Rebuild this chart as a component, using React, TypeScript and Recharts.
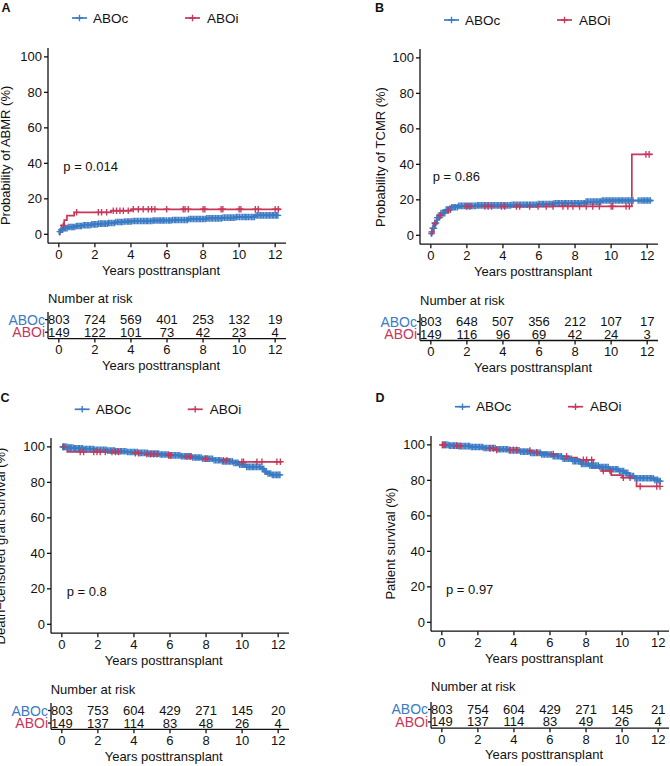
import React from "react";
import { ComposedChart, Line, Scatter, XAxis, YAxis } from "recharts";

const BLUE = "#3a7bc4";
const RED = "#c8375a";
const INK = "#111";
const FONT = "'Liberation Sans', Arial, Helvetica, sans-serif";

const YEARS = [0, 2, 4, 6, 8, 10, 12];
const PCT_TICKS = [0, 20, 40, 60, 80, 100];
const GROUPS = ["ABOc", "ABOi"];
const GROUP_ROW = [1.5, 0.5];

// A — ABMR, step points [year, %]
const abmrC = [[0, 0], [0.03, 1.5], [0.1, 2.6], [0.25, 3.4], [0.5, 4.1], [0.9, 4.7], [1.3, 5.1], [1.8, 5.6], [2.2, 6.0], [2.7, 6.4], [3.1, 6.9], [3.6, 7.2], [4.1, 7.5], [5.2, 7.8], [6.3, 8.1], [7.2, 8.6], [8.2, 9.0], [9.1, 9.4], [9.8, 9.8], [10.9, 10.7], [12.2, 10.7]];
const abmrI = [[0, 0], [0.05, 2.5], [0.15, 5], [0.3, 8], [0.45, 10.5], [0.85, 12.4], [2.9, 13.3], [4.05, 14.1], [12.3, 14.1]];
const abmrCensC = [0.06, 0.14, 0.21, 0.27, 0.33, 0.39, 0.46, 0.52, 0.61, 0.68, 0.74, 0.81, 0.89, 0.97, 1.05, 1.12, 1.19, 1.26, 1.35, 1.43, 1.5, 1.58, 1.66, 1.74, 1.82, 1.9, 1.97, 2.05, 2.13, 2.21, 2.3, 2.38, 2.45, 2.52, 2.6, 2.69, 2.76, 2.83, 2.91, 3.0, 3.08, 3.16, 3.25, 3.33, 3.4, 3.47, 3.55, 3.64, 3.72, 3.81, 3.88, 3.95, 4.03, 4.12, 4.2, 4.28, 4.36, 4.44, 4.53, 4.61, 4.69, 4.77, 4.85, 4.92, 5.0, 5.09, 5.17, 5.24, 5.32, 5.4, 5.49, 5.57, 5.65, 5.73, 5.8, 5.88, 5.97, 6.07, 6.15, 6.23, 6.31, 6.4, 6.47, 6.55, 6.63, 6.72, 6.8, 6.89, 6.97, 7.06, 7.13, 7.21, 7.3, 7.38, 7.46, 7.55, 7.63, 7.71, 7.79, 7.87, 7.96, 8.04, 8.12, 8.2, 8.28, 8.37, 8.45, 8.53, 8.61, 8.7, 8.78, 8.85, 8.94, 9.02, 9.1, 9.19, 9.27, 9.36, 9.44, 9.52, 9.6, 9.68, 9.77, 9.85, 9.93, 10.02, 10.11, 10.2, 10.28, 10.36, 10.43, 10.51, 10.6, 10.69, 10.77, 10.85, 10.94, 11.03, 11.11, 11.2, 11.27, 11.35, 11.44, 11.52, 11.6, 11.68, 11.76, 11.84, 11.92, 12.0, 12.08, 12.15];
const abmrCensI = [0.25, 0.99, 2.19, 2.37, 2.65, 3.02, 3.2, 3.39, 3.58, 3.85, 4.13, 4.41, 4.68, 4.96, 5.15, 5.33, 5.98, 6.9, 7.0, 7.18, 8.0, 8.1, 9.0, 9.1, 10.0, 10.1, 10.9, 11.06, 12.0, 12.17];
const abmrRiskC = [803, 724, 569, 401, 253, 132, 19];
const abmrRiskI = [149, 122, 101, 73, 42, 23, 4];

// B — TCMR
const tcmrC = [[0, 0], [0.03, 1], [0.1, 4], [0.2, 7], [0.35, 10], [0.55, 12.5], [0.8, 14.5], [1.1, 15.8], [1.5, 16.6], [2.5, 16.9], [4.5, 17.2], [5.9, 17.6], [6.8, 18.1], [8.6, 19.0], [9.5, 19.6], [12.3, 19.6]];
const tcmrI = [[0, 0], [0.03, 1.9], [0.15, 6.6], [0.35, 11.2], [0.7, 14], [1.05, 16.3], [11.15, 45.6], [12.3, 45.6]];
const tcmrCensC = [0.04, 0.11, 0.17, 0.22, 0.29, 0.36, 0.42, 0.49, 0.56, 0.63, 0.7, 0.78, 0.85, 0.92, 1.0, 1.09, 1.16, 1.23, 1.3, 1.38, 1.47, 1.55, 1.62, 1.7, 1.78, 1.86, 1.94, 2.02, 2.1, 2.18, 2.25, 2.33, 2.41, 2.49, 2.58, 2.66, 2.73, 2.81, 2.89, 2.97, 3.05, 3.13, 3.21, 3.29, 3.38, 3.46, 3.54, 3.62, 3.7, 3.77, 3.85, 3.93, 4.02, 4.1, 4.17, 4.25, 4.34, 4.42, 4.5, 4.58, 4.66, 4.73, 4.82, 4.9, 4.98, 5.06, 5.14, 5.22, 5.3, 5.37, 5.46, 5.54, 5.62, 5.7, 5.78, 5.86, 5.95, 6.03, 6.11, 6.19, 6.26, 6.34, 6.43, 6.51, 6.59, 6.67, 6.75, 6.83, 6.92, 7.0, 7.07, 7.15, 7.24, 7.32, 7.4, 7.48, 7.55, 7.63, 7.72, 7.8, 7.88, 7.97, 8.04, 8.12, 8.2, 8.28, 8.37, 8.45, 8.53, 8.61, 8.69, 8.77, 8.86, 8.94, 9.02, 9.1, 9.18, 9.26, 9.34, 9.42, 9.5, 9.58, 9.67, 9.75, 9.83, 9.91, 9.99, 10.07, 10.15, 10.23, 10.32, 10.4, 10.48, 10.56, 10.64, 10.72, 10.81, 10.89, 10.97, 11.05, 11.13, 11.22, 11.5, 11.6, 11.7, 11.78, 11.86, 11.94, 12.02, 12.1, 12.18];
const tcmrCensI = [0.05, 0.24, 0.52, 0.97, 1.99, 2.17, 3.0, 3.18, 3.37, 3.92, 4.1, 4.75, 4.93, 5.48, 5.95, 6.4, 6.78, 7.33, 7.6, 7.88, 8.25, 8.62, 8.98, 9.35, 10.0, 10.09, 10.83, 11.01, 11.93, 12.11];
const tcmrRiskC = [803, 648, 507, 356, 212, 107, 17];
const tcmrRiskI = [149, 116, 96, 69, 42, 24, 3];

// C — death-censored graft survival
const graftC = [[0, 100], [0.3, 99.6], [0.7, 99.2], [1.2, 98.8], [1.8, 98.4], [2.5, 97.9], [3.0, 97.5], [3.6, 97.1], [4.2, 96.6], [4.8, 96.2], [5.4, 95.7], [6.0, 95.2], [6.6, 94.7], [7.2, 94.0], [7.8, 93.3], [8.4, 92.5], [8.9, 91.8], [9.5, 91.0], [9.8, 90.0], [10.2, 88.7], [11.1, 87.7], [11.25, 86.0], [11.4, 85.0], [11.6, 84.2], [12.1, 84.2]];
const graftI = [[0, 100], [0.3, 97.2], [4.0, 96.4], [4.6, 95.8], [5.8, 95.2], [6.6, 94.4], [7.5, 93.4], [8.4, 92.5], [9.3, 91.6], [12.2, 91.6]];
const graftCensC = [0.05, 0.1, 0.16, 0.22, 0.29, 0.35, 0.41, 0.48, 0.55, 0.63, 0.7, 0.77, 0.84, 0.92, 0.99, 1.07, 1.14, 1.22, 1.3, 1.37, 1.45, 1.53, 1.6, 1.68, 1.76, 1.83, 1.91, 1.99, 2.07, 2.15, 2.23, 2.31, 2.39, 2.46, 2.54, 2.62, 2.7, 2.78, 2.85, 2.93, 3.01, 3.09, 3.17, 3.25, 3.32, 3.4, 3.48, 3.56, 3.64, 3.72, 3.8, 3.88, 3.95, 4.03, 4.11, 4.19, 4.27, 4.35, 4.43, 4.5, 4.58, 4.66, 4.74, 4.82, 4.9, 4.97, 5.05, 5.13, 5.21, 5.29, 5.37, 5.45, 5.53, 5.6, 5.68, 5.76, 5.84, 5.92, 6.0, 6.08, 6.16, 6.23, 6.31, 6.39, 6.47, 6.55, 6.63, 6.71, 6.79, 6.86, 6.94, 7.02, 7.1, 7.18, 7.26, 7.34, 7.42, 7.49, 7.57, 7.65, 7.73, 7.81, 7.89, 7.97, 8.05, 8.12, 8.2, 8.28, 8.36, 8.44, 8.52, 8.6, 8.68, 8.75, 8.83, 8.91, 8.99, 9.07, 9.15, 9.23, 9.31, 9.38, 9.46, 9.54, 9.62, 9.7, 9.78, 9.86, 9.94, 10.01, 10.09, 10.17, 10.25, 10.33, 10.41, 10.49, 10.57, 10.64, 10.72, 10.8, 10.88, 10.96, 11.04, 11.12, 11.2, 11.27, 11.35, 11.43, 11.51, 11.59, 11.67, 11.75, 11.83, 11.9, 11.98, 12.05, 12.1];
const graftCensI = [0.1, 1.02, 1.21, 1.77, 1.95, 2.13, 2.41, 2.78, 2.97, 3.15, 4.08, 4.26, 4.72, 4.91, 5.09, 5.28, 5.92, 6.02, 6.94, 7.13, 7.96, 8.05, 8.97, 9.16, 9.99, 10.08, 10.82, 11.1, 11.93, 12.12];
const graftRiskC = [803, 753, 604, 429, 271, 145, 20];
const graftRiskI = [149, 137, 114, 83, 48, 26, 4];

// D — patient survival
const survC = [[0, 100], [0.4, 99.6], [0.9, 99.3], [1.6, 98.8], [2.3, 98.2], [3.0, 97.5], [3.7, 96.9], [4.3, 96.2], [4.9, 95.5], [5.5, 94.6], [6.1, 93.6], [6.7, 92.2], [7.2, 90.8], [7.7, 89.3], [8.2, 88.3], [8.7, 87.5], [9.3, 86.3], [9.8, 85.2], [10.1, 84.2], [10.4, 82.5], [10.7, 81.2], [11.8, 80.3], [12.0, 79.6], [12.2, 79.6]];
const survI = [[0, 100], [0.7, 99.5], [1.5, 98.8], [2.2, 98.0], [2.9, 97.2], [4.3, 96.8], [5.0, 95.8], [5.8, 94.8], [6.4, 93.5], [7.0, 92.8], [7.5, 91.6], [8.4, 87.1], [8.9, 85.3], [9.4, 83.0], [10.0, 81.5], [10.8, 76.6], [12.1, 76.6]];
const survCensC = [0.04, 0.09, 0.15, 0.21, 0.28, 0.35, 0.42, 0.49, 0.57, 0.64, 0.71, 0.79, 0.86, 0.94, 1.01, 1.09, 1.17, 1.24, 1.32, 1.4, 1.48, 1.55, 1.63, 1.71, 1.79, 1.86, 1.94, 2.02, 2.1, 2.18, 2.26, 2.33, 2.41, 2.49, 2.57, 2.65, 2.72, 2.8, 2.88, 2.96, 3.04, 3.12, 3.19, 3.27, 3.35, 3.43, 3.51, 3.59, 3.66, 3.74, 3.82, 3.9, 3.98, 4.06, 4.13, 4.21, 4.29, 4.37, 4.45, 4.53, 4.6, 4.68, 4.76, 4.84, 4.92, 5.0, 5.07, 5.15, 5.23, 5.31, 5.39, 5.47, 5.54, 5.62, 5.7, 5.78, 5.86, 5.94, 6.01, 6.09, 6.17, 6.25, 6.33, 6.41, 6.48, 6.56, 6.64, 6.72, 6.8, 6.88, 6.95, 7.03, 7.11, 7.19, 7.27, 7.35, 7.42, 7.5, 7.58, 7.66, 7.74, 7.82, 7.89, 7.97, 8.05, 8.13, 8.21, 8.29, 8.36, 8.44, 8.52, 8.6, 8.68, 8.76, 8.83, 8.91, 8.99, 9.07, 9.15, 9.23, 9.3, 9.38, 9.46, 9.54, 9.62, 9.7, 9.77, 9.85, 9.93, 10.01, 10.09, 10.17, 10.24, 10.32, 10.4, 10.48, 10.56, 10.64, 10.71, 10.79, 10.87, 10.95, 11.03, 11.11, 11.18, 11.26, 11.34, 11.42, 11.5, 11.58, 11.65, 11.73, 11.81, 11.89, 11.97, 12.05, 12.12];
const survCensI = [0.03, 0.18, 0.82, 1.01, 2.67, 2.86, 3.04, 3.78, 3.97, 4.15, 4.89, 5.26, 6.18, 6.92, 7.85, 8.03, 8.31, 8.96, 9.33, 10.07, 10.44, 11.0, 11.92, 12.1];
const survRiskC = [803, 754, 604, 429, 271, 145, 21];
const survRiskI = [149, 137, 114, 83, 49, 26, 4];

const YW = 45;
const PLOT_W = 238;
const PLOT_H = 195.2;
const TITLE = "Years posttransplant";

const stepAt = (steps: number[][], t: number) => {
  let v = steps[0][1];
  for (const [x, y] of steps) if (x <= t) v = y;
  return v;
};
const toPts = (steps: number[][]) => steps.map(([t, v]) => ({ t, v }));
const censPts = (steps: number[][], times: number[]) => times.map((t) => ({ t, v: stepAt(steps, t) }));

const cross = (color: string) => (props: any) => {
  const { cx, cy } = props;
  if (cx == null || cy == null) return <g />;
  return (
    <path
      d={`M${cx - 3.3},${cy}H${cx + 3.3}M${cx},${cy - 3.3}V${cy + 3.3}`}
      stroke={color}
      strokeWidth={1.35}
      fill="none"
    />
  );
};

const riskText = (props: any) => {
  const { cx, cy } = props;
  const n = props.payload?.n ?? props.n;
  return (
    <text x={cx} y={cy} textAnchor="middle" dominantBaseline="central" fontSize={13} fill={INK} fontFamily={FONT}>
      {n}
    </text>
  );
};

const groupTick = (props: any) => {
  const { x, y, payload } = props;
  const i = GROUP_ROW.indexOf(payload.value);
  return (
    <text x={x} y={y} textAnchor="end" dominantBaseline="central" fontSize={14} fill={i === 0 ? BLUE : RED} fontFamily={FONT}>
      {GROUPS[i]}
    </text>
  );
};

const axisLine = { stroke: INK, strokeWidth: 1.3 };
const tickStyle = { fontSize: 13, fill: INK, fontFamily: FONT };

function XAx() {
  return (
    <XAxis
      type="number"
      dataKey="t"
      domain={[-0.6, 12.6]}
      ticks={YEARS}
      interval={0}
      allowDataOverflow
      height={30}
      tickSize={4}
      tickMargin={2.5}
      tick={tickStyle}
      axisLine={axisLine}
      tickLine={axisLine}
    />
  );
}

type PanelProps = {
  letter: string;
  letterX: number;
  letterY: number;
  axisX: number;
  plotTop: number;
  legendY: number;
  yLabel: string;
  yLabelX: number;
  pText: string;
  pX: number;
  pY: number;
  narY: number;
  tableTop: number;
  tableAxis: number;
  stepsC: number[][];
  stepsI: number[][];
  censC: number[];
  censI: number[];
  riskC: number[];
  riskI: number[];
};

function Panel(p: PanelProps) {
  const chartLeft = p.axisX - YW;
  const plotBottom = p.plotTop + PLOT_H;
  const tableH = p.tableAxis - p.tableTop;
  const riskPts = [
    ...p.riskC.map((n, i) => ({ t: YEARS[i], row: GROUP_ROW[0], n })),
    ...p.riskI.map((n, i) => ({ t: YEARS[i], row: GROUP_ROW[1], n })),
  ];
  const lx = p.axisX;
  return (
    <>
      <div style={{ position: "absolute", left: chartLeft, top: p.plotTop - 5 }}>
        <ComposedChart width={YW + PLOT_W + 2} height={5 + PLOT_H + 30} margin={{ top: 5, right: 2, left: 0, bottom: 0 }}>
          {XAx()}
          <YAxis
            type="number"
            domain={[-5, 105]}
            ticks={PCT_TICKS}
            interval={0}
            allowDataOverflow
            width={YW}
            tickSize={4}
            tickMargin={2}
            tick={tickStyle}
            axisLine={axisLine}
            tickLine={axisLine}
          />
          <Line data={toPts(p.stepsC)} dataKey="v" type="stepAfter" stroke={BLUE} strokeWidth={1.7} dot={false} activeDot={false} isAnimationActive={false} />
          <Line data={toPts(p.stepsI)} dataKey="v" type="stepAfter" stroke={RED} strokeWidth={1.7} dot={false} activeDot={false} isAnimationActive={false} />
          <Scatter data={censPts(p.stepsC, p.censC)} dataKey="v" shape={cross(BLUE)} isAnimationActive={false} />
          <Scatter data={censPts(p.stepsI, p.censI)} dataKey="v" shape={cross(RED)} isAnimationActive={false} />
        </ComposedChart>
      </div>
      <div style={{ position: "absolute", left: chartLeft, top: p.tableTop - 2 }}>
        <ComposedChart width={YW + PLOT_W + 2} height={2 + tableH + 30} margin={{ top: 2, right: 2, left: 0, bottom: 0 }}>
          {XAx()}
          <YAxis
            type="number"
            domain={[0, 2.1]}
            ticks={GROUP_ROW}
            interval={0}
            width={YW}
            tickSize={3}
            tickMargin={0}
            tick={groupTick}
            axisLine={axisLine}
            tickLine={axisLine}
          />
          <Scatter data={riskPts} dataKey="row" shape={riskText} isAnimationActive={false} />
        </ComposedChart>
      </div>
      <svg width={670} height={766} style={{ position: "absolute", left: 0, top: 0, pointerEvents: "none" }} fontFamily={FONT} fill={INK}>
        <text x={p.letterX} y={p.letterY} dominantBaseline="central" fontWeight="bold" fontSize={12.5}>
          {p.letter}
        </text>
        <line x1={lx + 24} x2={lx + 39} y1={p.legendY} y2={p.legendY} stroke={BLUE} strokeWidth={1.7} />
        {cross(BLUE)({ cx: lx + 31.5, cy: p.legendY })}
        <text x={lx + 45} y={p.legendY} dominantBaseline="central" fontSize={13.5}>
          {GROUPS[0]}
        </text>
        <line x1={lx + 137} x2={lx + 152} y1={p.legendY} y2={p.legendY} stroke={RED} strokeWidth={1.7} />
        {cross(RED)({ cx: lx + 144.5, cy: p.legendY })}
        <text x={lx + 159} y={p.legendY} dominantBaseline="central" fontSize={13.5}>
          {GROUPS[1]}
        </text>
        <text transform={`translate(${p.yLabelX},${p.plotTop + PLOT_H / 2 + 10}) rotate(-90)`} textAnchor="middle" fontSize={13}>
          {p.yLabel}
        </text>
        <text x={p.pX} y={p.pY} dominantBaseline="central" fontSize={13}>
          {p.pText}
        </text>
        <text x={lx + 113} y={plotBottom + 27} textAnchor="middle" dominantBaseline="central" fontSize={13}>
          {TITLE}
        </text>
        <text x={lx} y={p.narY} dominantBaseline="central" fontSize={13}>
          Number at risk
        </text>
        <text x={lx + 113} y={p.tableAxis + 26.7} textAnchor="middle" dominantBaseline="central" fontSize={13}>
          {TITLE}
        </text>
      </svg>
    </>
  );
}

export default function App() {
  return (
    <div style={{ position: "absolute", left: 0, top: 0, width: 670, height: 766, overflow: "hidden", background: "#fff" }}>
      <Panel
        letter="A" letterX={1.5} letterY={8}
        axisX={48} plotTop={47.8} legendY={18}
        yLabel="Probability of ABMR (%)" yLabelX={10.3}
        pText="p = 0.014" pX={63.3} pY={166.7}
        narY={298.3} tableTop={311.7} tableAxis={338.3}
        stepsC={abmrC} stepsI={abmrI} censC={abmrCensC} censI={abmrCensI}
        riskC={abmrRiskC} riskI={abmrRiskI}
      />
      <Panel
        letter="B" letterX={375} letterY={7.5}
        axisX={420} plotTop={49.4} legendY={20}
        yLabel="Probability of TCMR (%)" yLabelX={385.3}
        pText="p = 0.86" pX={432.7} pY={176.7}
        narY={300} tableTop={314} tableAxis={340.5}
        stepsC={tcmrC} stepsI={tcmrI} censC={tcmrCensC} censI={tcmrCensI}
        riskC={tcmrRiskC} riskI={tcmrRiskI}
      />
      <Panel
        letter="C" letterX={0.5} letterY={398.3}
        axisX={50.7} plotTop={438.4} legendY={409.3}
        yLabel="Death−censored graft survival (%)" yLabelX={4.6}
        pText="p = 0.8" pX={66.7} pY={591.7}
        narY={689.3} tableTop={703} tableAxis={729.3}
        stepsC={graftC} stepsI={graftI} censC={graftCensC} censI={graftCensI}
        riskC={graftRiskC} riskI={graftRiskI}
      />
      <Panel
        letter="D" letterX={375.5} letterY={398.3}
        axisX={431} plotTop={436} legendY={406.7}
        yLabel="Patient survival (%)" yLabelX={395.3}
        pText="p = 0.97" pX={446} pY={589.3}
        narY={686.7} tableTop={701.5} tableAxis={727.7}
        stepsC={survC} stepsI={survI} censC={survCensC} censI={survCensI}
        riskC={survRiskC} riskI={survRiskI}
      />
    </div>
  );
}
